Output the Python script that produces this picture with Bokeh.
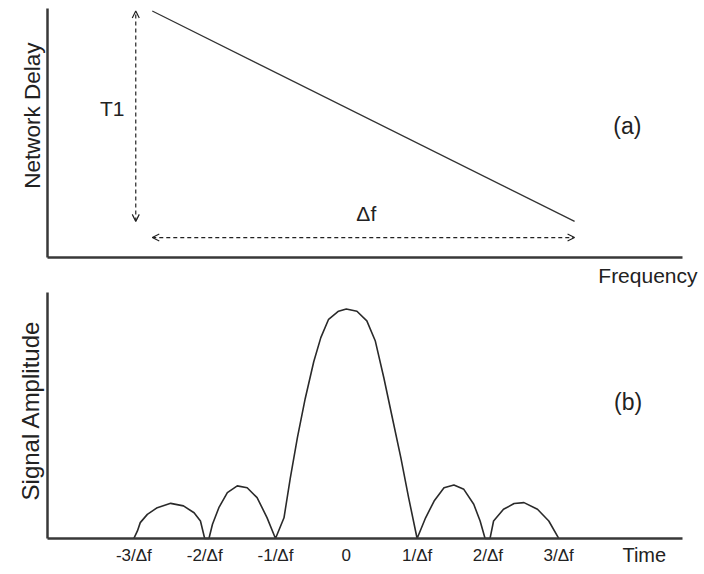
import math
from bokeh.plotting import figure
from bokeh.models import Range1d, FixedTicker, Label, Arrow, OpenHead
from bokeh.layouts import column
from bokeh.embed import file_html
from bokeh.resources import INLINE

FONT = "Liberation Sans"
INK = "#222222"

# ---------------- panel (a): network delay vs frequency ----------------
freq = [1.65, 8.3]          # frequency span of the delay line
delay = [9.9, 1.45]         # network delay at the two ends
freq_axis = (0, 10)
delay_axis = (0, 10)
panel_a_label = "(a)"
t1_label = "T1"
df_label = "\u0394f"

# ---------------- panel (b): signal amplitude vs time ----------------
time = [-3.0, -2.95, -2.91, -2.81, -2.67, -2.48, -2.30, -2.15, -2.06, -2.0,
        -1.94, -1.89, -1.80, -1.68, -1.54, -1.40, -1.26, -1.12, -1.0,
        -0.88, -0.79, -0.69, -0.58, -0.46, -0.36, -0.25, -0.11, 0.0,
        0.15, 0.29, 0.41, 0.53, 0.65, 0.77, 0.88, 1.0,
        1.12, 1.24, 1.38, 1.52, 1.66, 1.80, 1.89, 1.96,
        2.03, 2.08, 2.22, 2.37, 2.51, 2.70, 2.86, 3.0]
amplitude = [0.0, 0.033, 0.069, 0.105, 0.134, 0.153, 0.142, 0.112, 0.076, 0.0,
             0.0, 0.062, 0.134, 0.20, 0.229, 0.221, 0.178, 0.091, 0.0,
             0.09, 0.265, 0.44, 0.61, 0.77, 0.875, 0.955, 0.99, 1.0,
             0.99, 0.948, 0.86, 0.70, 0.526, 0.352, 0.178, 0.0,
             0.09, 0.163, 0.221, 0.233, 0.214, 0.149, 0.076, 0.0,
             0.0, 0.076, 0.127, 0.152, 0.156, 0.127, 0.076, 0.0]
time_axis = (-4.22, 4.75)
amp_axis = (0, 1.072)
time_ticks = [-3, -2, -1, 0, 1, 2, 3]
time_tick_labels = ["-3/\u0394f", "-2/\u0394f", "-1/\u0394f", "0",
                    "1/\u0394f", "2/\u0394f", "3/\u0394f"]
panel_b_label = "(b)"


def make_fig(height, x_rng, y_rng):
    p = figure(width=704, height=height, x_range=Range1d(*x_rng), y_range=Range1d(*y_rng),
               min_border=0, output_backend="svg", toolbar_location=None)
    p.grid.visible = False
    p.outline_line_color = None
    p.background_fill_color = "white"
    p.border_fill_color = "white"
    for ax in (p.xaxis[0], p.yaxis[0]):
        ax.ticker = FixedTicker(ticks=[])
        ax.major_tick_line_color = None
        ax.minor_tick_line_color = None
        ax.major_tick_out = 0
        ax.axis_line_width = 2.5
        ax.axis_line_color = "#383838"
        ax.major_label_text_font = FONT
        ax.major_label_text_color = INK
    return p


def add_label(p, x, y, text, size="21px", align="center", angle=0.0):
    p.add_layout(Label(x=x, y=y, text=text, text_font=FONT, text_font_size=size,
                       text_color=INK, text_align=align, text_baseline="middle",
                       angle=angle))


# ---------- top figure ----------
p1 = make_fig(288, (-0.740, 10.346), (-1.245, 10.321))
p1.xaxis[0].fixed_location = delay_axis[0]
p1.xaxis[0].bounds = freq_axis
p1.yaxis[0].fixed_location = freq_axis[0]
p1.yaxis[0].bounds = delay_axis

p1.line(freq, delay, line_color="#333333", line_width=1.3)

arrow_x = 1.39
arrow_y = 0.8
p1.add_layout(Arrow(x_start=arrow_x, y_start=delay[1], x_end=arrow_x, y_end=delay[0],
                    start=OpenHead(size=7, line_width=1.2, line_color=INK),
                    end=OpenHead(size=7, line_width=1.2, line_color=INK),
                    line_dash="4 3", line_width=1.2, line_color=INK))
p1.add_layout(Arrow(x_start=freq[0], y_start=arrow_y, x_end=freq[1], y_end=arrow_y,
                    start=OpenHead(size=7, line_width=1.2, line_color=INK),
                    end=OpenHead(size=7, line_width=1.2, line_color=INK),
                    line_dash="4 3", line_width=1.2, line_color=INK))

add_label(p1, -0.241, 5.70, "Network Delay", size="22.5px", angle=math.pi / 2)
add_label(p1, 10.236, -0.723, "Frequency", align="right")
add_label(p1, 1.02, 5.98, t1_label)
add_label(p1, 5.02, 1.77, df_label)
add_label(p1, 9.13, 5.3, panel_a_label, size="23px")

# ---------- bottom figure ----------
p2 = make_fig(286, (-4.884, 5.059), (-0.157, 1.089))
xa2 = p2.xaxis[0]
xa2.fixed_location = amp_axis[0]
xa2.bounds = time_axis
xa2.ticker = FixedTicker(ticks=time_ticks)
xa2.major_label_overrides = dict(zip(time_ticks, time_tick_labels))
xa2.major_label_text_font_size = "17px"
xa2.major_label_standoff = 8
p2.yaxis[0].fixed_location = time_axis[0]
p2.yaxis[0].bounds = amp_axis

p2.line(time, amplitude, line_color="#2a2a2a", line_width=1.6)

add_label(p2, -4.46, 0.558, "Signal Amplitude", size="24px", angle=math.pi / 2)
add_label(p2, 3.90, -0.070, "Time", size="20px", align="left")
add_label(p2, 3.98, 0.593, panel_b_label, size="23px")

layout = column(p1, p2)
open("out.html", "w").write(file_html(layout, INLINE))
